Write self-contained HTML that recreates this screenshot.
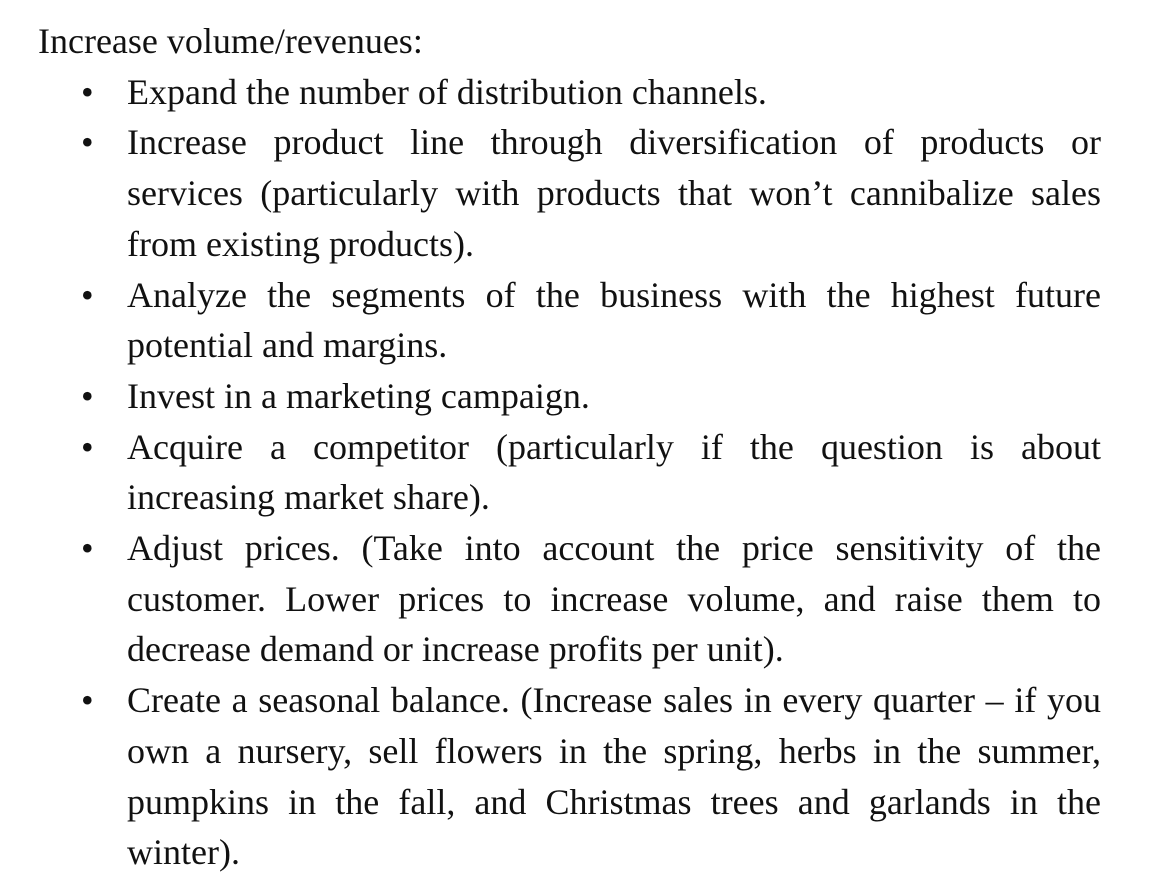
<!DOCTYPE html>
<html><head><meta charset="utf-8"><style>
html,body{margin:0;padding:0;background:#fff;}
body{width:1150px;height:888px;position:relative;overflow:hidden;font-family:"Liberation Serif",serif;font-size:36px;color:#111;}
.l{position:absolute;height:50px;line-height:50px;white-space:nowrap;}
.j{text-align:justify;text-align-last:justify;white-space:normal;overflow:hidden;}
.b{position:absolute;left:81px;height:50px;line-height:50px;font-size:36px;}
</style></head><body>
<div id="root"></div>
<script>
const lines=[
 [0,38,"Increase volume/revenues:",false,false],
 [1,127,"Expand the number of distribution channels.",false,true],
 [2,127,"Increase product line through diversification of products or",true,true],
 [3,127,"services (particularly with products that won’t cannibalize sales",true,false],
 [4,127,"from existing products).",false,false],
 [5,127,"Analyze the segments of the business with the highest future",true,true],
 [6,127,"potential and margins.",false,false],
 [7,127,"Invest in a marketing campaign.",false,true],
 [8,127,"Acquire a competitor (particularly if the question is about",true,true],
 [9,127,"increasing market share).",false,false],
 [10,127,"Adjust prices. (Take into account the price sensitivity of the",true,true],
 [11,127,"customer. Lower prices to increase volume, and raise them to",true,false],
 [12,127,"decrease demand or increase profits per unit).",false,false],
 [13,127,"Create a seasonal balance. (Increase sales in every quarter – if you",true,true],
 [14,127,"own a nursery, sell flowers in the spring, herbs in the summer,",true,false],
 [15,127,"pumpkins in the fall, and Christmas trees and garlands in the",true,false],
 [16,127,"winter).",false,false]
];
const root=document.getElementById('root');
lines.forEach(([i,x,t,j,bul])=>{
 const top=41+50.7*i-25;
 const d=document.createElement('div');
 d.className='l'+(j?' j':'');
 d.style.left=x+'px';d.style.top=top+'px';
 if(j)d.style.width=(1101-x)+'px';
 d.textContent=t;
 
 
 root.appendChild(d);
 if(bul){
  const b=document.createElement('div');
  b.className='b';b.style.top=top+'px';b.textContent='•';
  
  
  root.appendChild(b);
 }
});
</script>
</body></html>
